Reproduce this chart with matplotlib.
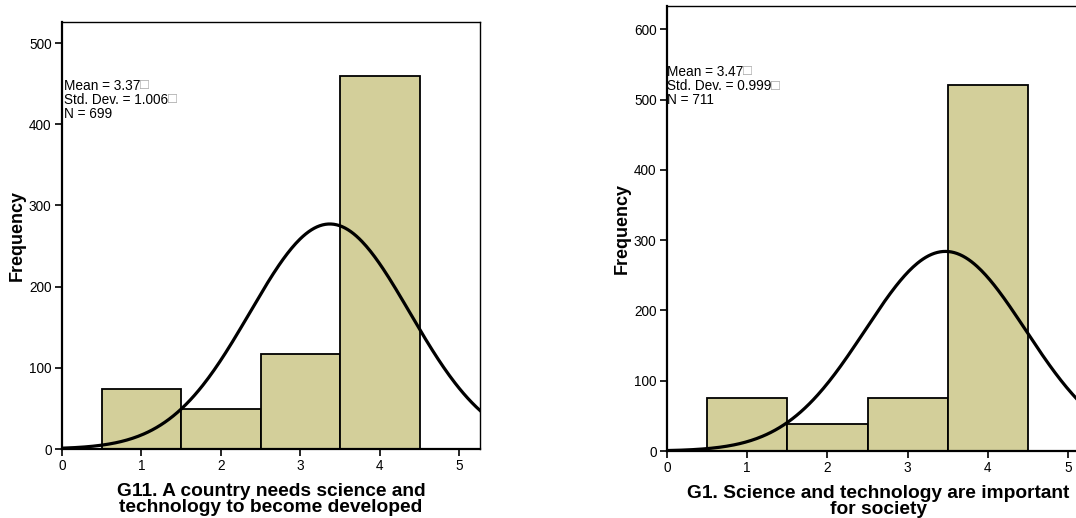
import numpy as np
import matplotlib.pyplot as plt

plt.rcParams['font.family'] = ['Liberation Sans', 'DejaVu Sans']

# antwoordcategorieen en frequenties per vraag
categories = [1, 2, 3, 4]
g11_counts = [74, 49, 117, 459]
g1_counts = [76, 38, 76, 521]

# beschrijvende statistiek zoals in de output
g11_stats = {"mean": 3.37, "sd": 1.006, "n": 699}
g1_stats = {"mean": 3.47, "sd": 0.999, "n": 711}

g11_label = "G11. A country needs science and\ntechnology to become developed"
g1_label = "G1. Science and technology are important\nfor society"

bar_color = '#d3cf9a'


def histogram(ax, counts, stats, xlabel, ylim, yticks, text_x, text_y):
    ax.bar(categories, counts, width=1.0, color=bar_color, edgecolor='black',
           linewidth=1.3, zorder=2)

    # normale curve over de histogram
    x = np.linspace(0, 5.3, 300)
    y = stats["n"] / (stats["sd"] * np.sqrt(2 * np.pi)) * np.exp(-0.5 * ((x - stats["mean"]) / stats["sd"]) ** 2)
    ax.plot(x, y, color='black', linewidth=2.3, zorder=3)

    ax.set_xlim(0, 5.26)
    ax.set_ylim(0, ylim)
    ax.set_xticks([0, 1, 2, 3, 4, 5])
    ax.set_yticks(yticks)
    ax.tick_params(labelsize=9.8, length=5, width=1.2, pad=2.5)
    for side in ['left', 'bottom']:
        ax.spines[side].set_linewidth(1.6)
    for side in ['top', 'right']:
        ax.spines[side].set_linewidth(1.0)

    ax.set_ylabel("Frequency", fontsize=13, fontweight='bold', labelpad=2)
    ax.set_xlabel(xlabel, fontsize=13.8, fontweight='bold', linespacing=0.92, labelpad=7)

    # statistiek-tekst linksboven
    lines = [f"Mean = {stats['mean']:.2f}", f"Std. Dev. = {stats['sd']:.3f}", f"N = {stats['n']}"]
    for i, line in enumerate(lines):
        t = ax.annotate(line, xy=(text_x, text_y), xycoords='data', xytext=(0, -10.2 * i),
                        textcoords='offset points', fontsize=9.8, va='top', ha='left', zorder=4)
        if i < 2:
            ax.annotate("\u25a1", xy=(1, 0.05), xycoords=t, va='bottom', ha='left',
                        fontsize=10.5, color='#a0a0a0')


fig = plt.figure(figsize=(10.76, 5.18), dpi=100)
ax1 = fig.add_axes([0.0576, 0.1332, 0.3885, 0.8243])
ax2 = fig.add_axes([0.6199, 0.1293, 0.3922, 0.8591])

histogram(ax1, g11_counts, g11_stats, g11_label, 526, [0, 100, 200, 300, 400, 500], 0.02, 456)
histogram(ax2, g1_counts, g1_stats, g1_label, 633, [0, 100, 200, 300, 400, 500, 600], 0.0, 549)

fig.savefig("out.png", dpi=100)
